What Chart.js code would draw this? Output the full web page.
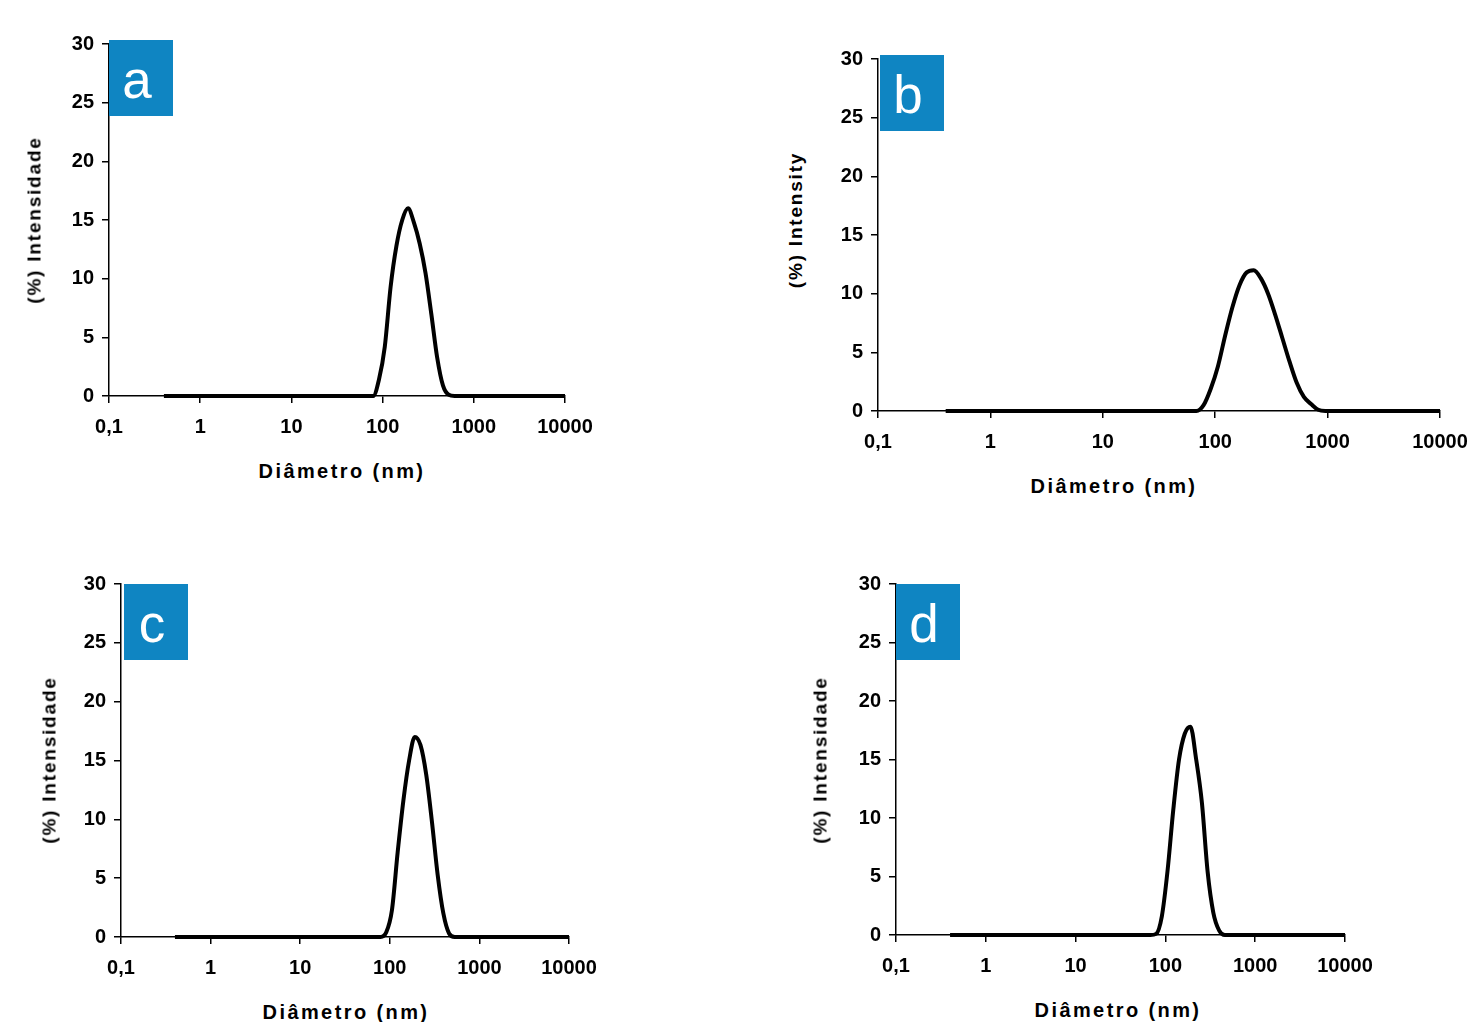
<!DOCTYPE html>
<html lang="pt">
<head>
<meta charset="utf-8">
<title>Distribuição de tamanho (DLS)</title>
<script src="https://cdn.jsdelivr.net/npm/chart.js@4.4.1/dist/chart.umd.min.js"></script>
<style>
  html, body { margin:0; padding:0; background:#fff; }
  body { width:1469px; height:1022px; position:relative; overflow:hidden; font-family:"Liberation Sans", Arial, sans-serif; }
  .panel { position:absolute; }
  .tag { position:absolute; width:64px; height:76px; background:#0f85c2; color:#fff; font-size:53px; line-height:80px;
         text-align:center; box-sizing:border-box; padding-right:8px; }
  .xt, .yt { position:absolute; font-weight:bold; font-size:19px; line-height:19px; white-space:nowrap; color:#000; }
  .xt { font-size:20px; letter-spacing:2.4px; transform:translate(-50%,-50%); }
  .yt { letter-spacing:1.8px; transform:translate(-50%,-50%) rotate(-90deg); }
</style>
</head>
<body>
<script>
// size classes (nm)
const sizes = [
  0.4, 0.4632, 0.5365, 0.6213, 0.7195, 0.8332, 0.965, 1.117, 1.294, 1.499,
  1.736, 2.01, 2.328, 2.696, 3.122, 3.615, 4.187, 4.849, 5.615, 6.503,
  7.531, 8.721, 10.1, 11.7, 13.54, 15.69, 18.17, 21.04, 24.36, 28.21,
  32.67, 37.84, 43.82, 50.75, 58.77, 68.06, 78.82, 91.28, 105.7, 122.4,
  141.8, 164.2, 190.1, 220.2, 255.0, 295.3, 342.0, 396.1, 458.7, 531.2,
  615.1, 712.4, 825.0, 955.4, 1106, 1281, 1484, 1718, 1990, 2305,
  2669, 3091, 3580, 4145, 4801, 5560, 6439, 7456, 8635, 10000
];

// (%) intensity per size class
const intensityA = [
  0, 0, 0, 0, 0, 0, 0, 0, 0, 0,
  0, 0, 0, 0, 0, 0, 0, 0, 0, 0,
  0, 0, 0, 0, 0, 0, 0, 0, 0, 0,
  0, 0, 0, 0, 0, 0, 0, 1.4, 4.2, 9.3,
  12.8, 15.0, 16.0, 14.8, 13.0, 10.5, 7.0, 3.3, 0.9, 0.1,
  0, 0, 0, 0, 0, 0, 0, 0, 0, 0,
  0, 0, 0, 0, 0, 0, 0, 0, 0, 0
];
const intensityB = [
  0, 0, 0, 0, 0, 0, 0, 0, 0, 0,
  0, 0, 0, 0, 0, 0, 0, 0, 0, 0,
  0, 0, 0, 0, 0, 0, 0, 0, 0, 0,
  0, 0, 0, 0, 0, 0, 0.5, 1.9, 3.8, 6.4,
  8.8, 10.7, 11.8, 12.0, 11.3, 10.0, 8.2, 6.2, 4.2, 2.4,
  1.2, 0.6, 0.1, 0, 0, 0, 0, 0, 0, 0,
  0, 0, 0, 0, 0, 0, 0, 0, 0, 0
];
const intensityC = [
  0, 0, 0, 0, 0, 0, 0, 0, 0, 0,
  0, 0, 0, 0, 0, 0, 0, 0, 0, 0,
  0, 0, 0, 0, 0, 0, 0, 0, 0, 0,
  0, 0, 0, 0, 0, 0, 0, 0.4, 2.3, 7.2,
  11.6, 15.0, 17.0, 16.3, 13.8, 9.8, 5.3, 2.0, 0.3, 0,
  0, 0, 0, 0, 0, 0, 0, 0, 0, 0,
  0, 0, 0, 0, 0, 0, 0, 0, 0, 0
];
const intensityD = [
  0, 0, 0, 0, 0, 0, 0, 0, 0, 0,
  0, 0, 0, 0, 0, 0, 0, 0, 0, 0,
  0, 0, 0, 0, 0, 0, 0, 0, 0, 0,
  0, 0, 0, 0, 0, 0, 0.1, 1.6, 5.5, 10.7,
  15.0, 17.2, 17.8, 15.0, 11.3, 5.4, 1.9, 0.4, 0, 0,
  0, 0, 0, 0, 0, 0, 0, 0, 0, 0,
  0, 0, 0, 0, 0, 0, 0, 0, 0, 0
];

const xTicks = [0.1, 1, 10, 100, 1000, 10000];
const yMin = 0, yMax = 30, yStep = 5;
const xTitle = 'Diâmetro (nm)';

// panel layout (chart area edges in page pixels, title centres, tag corner)
const panels = [
  { tag:'a', values:intensityA, l:109, r:565,  t:44,  b:396, yTitle:'(%) Intensidade', yt:[34, 220],  xt:[342, 471],  box:[109, 40] },
  { tag:'b', values:intensityB, l:878, r:1440, t:59,  b:411, yTitle:'(%) Intensity',   yt:[795, 220], xt:[1114, 486], box:[880, 55] },
  { tag:'c', values:intensityC, l:121, r:569,  t:584, b:937, yTitle:'(%) Intensidade', yt:[49, 760],  xt:[346, 1012], box:[124, 584] },
  { tag:'d', values:intensityD, l:896, r:1345, t:584, b:935, yTitle:'(%) Intensidade', yt:[820, 760], xt:[1118, 1010], box:[896, 584] },
];

const FONT = '"Liberation Sans", Arial, sans-serif';
// fixed axis sizes + padding big enough for label overhang, so the chart area lands exactly
const YW = 70, XH = 50, PT = 28, PR = 55;

function fmtTick(v){ return v < 1 ? String(v).replace('.', ',') : String(v); }

function addText(cls, text, x, y){
  const el = document.createElement('div');
  el.className = cls;
  el.textContent = text;
  el.style.left = x + 'px';
  el.style.top = y + 'px';
  document.body.appendChild(el);
}

function makePanel(p){
  const wrap = document.createElement('div');
  wrap.className = 'panel';
  wrap.style.left = (p.l - YW) + 'px';
  wrap.style.top = (p.t - PT) + 'px';
  wrap.style.width = (p.r - p.l + YW + PR) + 'px';
  wrap.style.height = (p.b - p.t + PT + XH) + 'px';
  const cv = document.createElement('canvas');
  wrap.appendChild(cv);
  document.body.appendChild(wrap);

  const tickFont = { family: FONT, size: 20, weight: 'bold' };
  new Chart(cv, {
    type: 'line',
    data: { datasets: [{
      data: sizes.map((s, i) => ({ x: s, y: p.values[i] })),
      borderColor: '#000', borderWidth: 4, pointRadius: 0,
      cubicInterpolationMode: 'monotone', fill: false, clip: false
    }]},
    options: {
      responsive: true, maintainAspectRatio: false, animation: false,
      layout: { padding: { top: PT, right: PR, left: 0, bottom: 0 } },
      plugins: { legend: { display: false }, tooltip: { enabled: false } },
      scales: {
        x: {
          type: 'logarithmic', min: xTicks[0], max: xTicks[xTicks.length - 1],
          afterBuildTicks: s => { s.ticks = xTicks.map(v => ({ value: v })); },
          afterFit: s => { s.height = XH; },
          grid: { drawOnChartArea: false, color: '#000', lineWidth: 1.5, tickLength: 7 },
          border: { color: '#000', width: 1.5 },
          ticks: { color: '#000', font: tickFont, padding: 12, maxRotation: 0, autoSkip: false, callback: v => fmtTick(v) }
        },
        y: {
          min: yMin, max: yMax,
          afterFit: s => { s.width = YW; },
          grid: { drawOnChartArea: false, color: '#000', lineWidth: 1.5, tickLength: 7 },
          border: { color: '#000', width: 1.5 },
          ticks: { stepSize: yStep, color: '#000', font: tickFont, padding: 8 }
        }
      }
    }
  });

  const tag = document.createElement('div');
  tag.className = 'tag';
  tag.textContent = p.tag;
  tag.style.left = p.box[0] + 'px';
  tag.style.top = p.box[1] + 'px';
  document.body.appendChild(tag);

  addText('yt', p.yTitle, p.yt[0], p.yt[1]);
  addText('xt', xTitle, p.xt[0], p.xt[1]);
}

panels.forEach(makePanel);
</script>
</body>
</html>
